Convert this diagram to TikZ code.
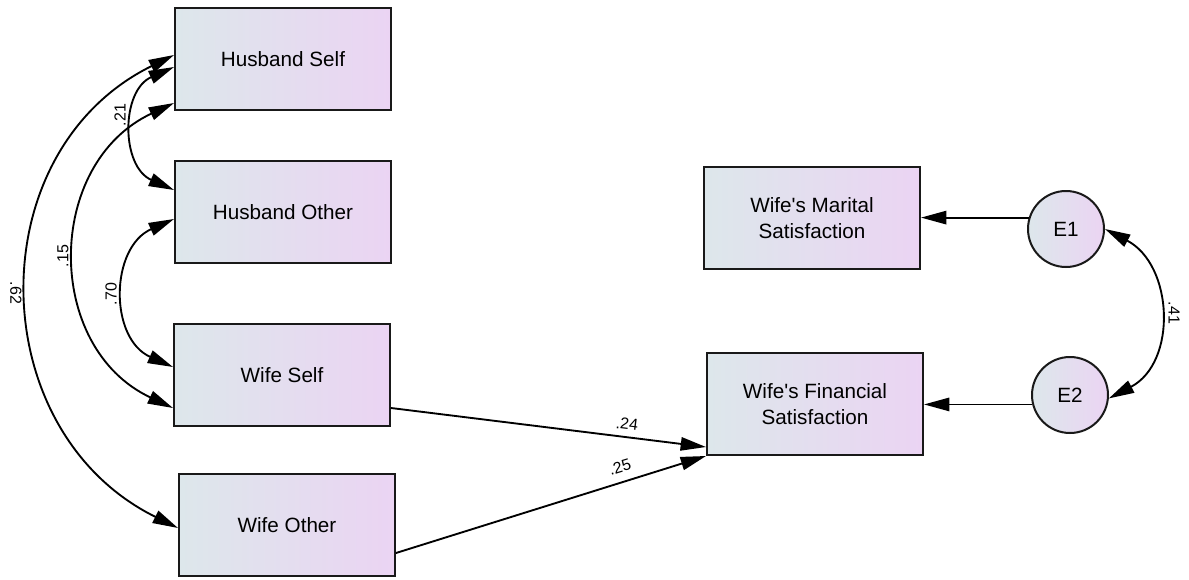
\documentclass[tikz,border=0pt]{standalone}
\usepackage{fontspec}
\setmainfont{Liberation Sans}
\usetikzlibrary{arrows.meta,calc}
\definecolor{boxL}{RGB}{221,231,235}
\definecolor{boxR}{RGB}{235,212,243}
\definecolor{edge}{RGB}{25,25,25}
\begin{document}
\begin{tikzpicture}[x=0.75pt,y=-0.75pt,
  varbox/.style={draw=edge, line width=1.5pt, left color=boxL, right color=boxR,
    minimum width=162pt, minimum height=76.5pt, inner sep=0pt, align=center,
    font=\fontsize{15.5}{19}\selectfont},
  errcirc/.style={circle, draw=edge, line width=1.5pt, left color=boxL, right color=boxR,
    minimum size=57pt, inner sep=0pt, font=\fontsize{15.5}{19}\selectfont},
  regarrow/.style={draw=black, line width=1.4pt, -{Triangle[length=19pt,width=10pt]}},
  covarrow/.style={draw=black, line width=1.4pt,
    {Triangle[length=19pt,width=10pt]}-{Triangle[length=19pt,width=10pt]}},
  coef/.style={font=\fontsize{12}{14}\selectfont, inner sep=1pt}
]
\useasboundingbox (0,0) rectangle (1189,579);

% observed variables
\node[varbox] (hs) at (283,59) {Husband Self};
\node[varbox] (ho) at (283,212) {Husband Other};
\node[varbox] (ws) at (282,375) {Wife Self};
\node[varbox] (wo) at (287,525) {Wife Other};
\node[varbox] (mar) at (812,218) {Wife\textquotesingle s Marital\\Satisfaction};
\node[varbox] (fin) at (815,404) {Wife\textquotesingle s Financial\\Satisfaction};

% error terms
\node[errcirc] (e1) at (1066,229) {E1};
\node[errcirc] (e2) at (1070,395) {E2};

% covariances among the predictors
\draw[covarrow] ($(hs.west)+(0,-4)$) .. controls +(-196,96.7) and +(-196,-96.7) .. ($(wo.west)+(0,3)$);
\draw[covarrow] ($(hs.west)+(0,8)$) .. controls +(-53.3,23.7) and +(-53.3,-23.7) .. ($(ho.west)+(0,-22)$);
\draw[covarrow] ($(hs.west)+(0,44)$) .. controls +(-129.3,60.6) and +(-129.3,-60.6) .. ($(ws.west)+(0,33)$);
\draw[covarrow] ($(ho.west)+(0,7)$) .. controls +(-64.1,28.5) and +(-64.1,-28.5) .. ($(ws.west)+(0,-8)$);

% covariance between the errors
\draw[covarrow] (e1.east) .. controls +(68.6,35.9) and +(68.6,-35.9) .. (e2.-5);

% regression paths
\draw[regarrow] ($(ws.east)+(0,33)$) -- ($(fin.west)+(0,43)$);
\draw[regarrow] ($(wo.east)+(0,28)$) -- (fin.south west);
\draw[regarrow] (e1.163) -- (e1.163 -| mar.east);
\draw[regarrow] (e2.194) -- (e2.194 -| fin.east);

% coefficients
\node[coef, rotate=90] (c21) at (120,115) {.21};
\node[coef, rotate=90] (c15) at (63,256) {.15};
\node[coef, rotate=90] (c70) at (111,294) {.70};
\node[coef, rotate=-90] (c62) at (16,293) {.62};
\node[coef, rotate=-90] (c41) at (1174,313) {.41};
\node[coef, rotate=-7] (c24) at (627,424) {.24};
\node[coef, rotate=17] (c25) at (620,467) {.25};
\end{tikzpicture}
\end{document}
